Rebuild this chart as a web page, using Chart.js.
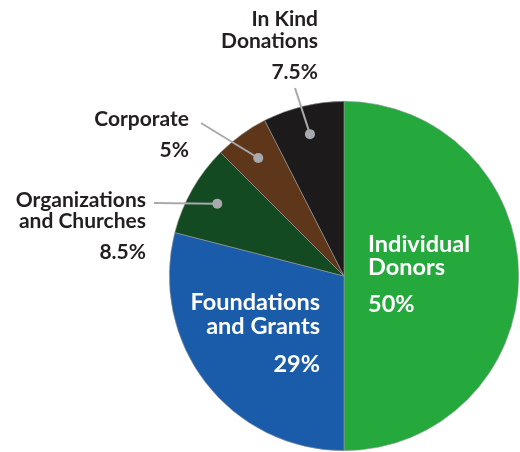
<!DOCTYPE html>
<html>
<head>
<meta charset="utf-8">
<script src="https://cdn.jsdelivr.net/npm/chart.js@4/dist/chart.umd.min.js"></script>
<style>
  html, body { margin: 0; padding: 0; background: #fff; }
  #wrap { width: 520px; height: 452px; position: relative; }
</style>
</head>
<body>
<div id="wrap"><canvas id="pie"></canvas></div>
<script>
const categories = ["Individual Donors", "Foundations and Grants", "Organizations and Churches", "Corporate", "In Kind Donations"]
const shares = [50, 29, 8.5, 5, 7.5]
const shareLabels = ["50%", "29%", "8.5%", "5%", "7.5%"]
const nameLines = [["Individual", "Donors"], ["Foundations", "and Grants"], ["Organizations", "and Churches"], ["Corporate"], ["In Kind", "Donations"]]
const colors = ["#25a83c", "#1a5ca9", "#134a22", "#5e371b", "#1c1a1b"]

// label placement, offsets from the pie centre (px)
const labelPos = [
  { inside: true, align: "left", x: 24, y: -24, gap: 23, pctGap: 37 },
  { inside: true, align: "right", x: -24, y: 34, gap: 24, pctGap: 38 },
  { inside: false, align: "right", x: -198, y: -69, gap: 21, pctGap: 31, lx: -190, ly: -73 },
  { inside: false, align: "right", x: -155, y: -150, gap: 21, pctGap: 31, lx: -143, ly: -153 },
  { inside: false, align: "right", x: -26, y: -250, gap: 22, pctGap: 31, lx: -49, ly: -188 }
]

const labelPlugin = {
  id: "sliceLabels",
  afterDatasetsDraw(chart) {
    const ctx = chart.ctx
    const arcs = chart.getDatasetMeta(0).data
    arcs.forEach((arc, i) => {
      const p = labelPos[i]
      const { x, y, startAngle, endAngle, outerRadius } = arc.getProps(["x", "y", "startAngle", "endAngle", "outerRadius"], true)
      ctx.save()
      if (!p.inside) {
        const mid = (startAngle + endAngle) / 2
        const dx = x + Math.cos(mid) * outerRadius * 0.835
        const dy = y + Math.sin(mid) * outerRadius * 0.835
        ctx.strokeStyle = "#a7a9ac"
        ctx.fillStyle = "#a7a9ac"
        ctx.lineWidth = 2
        ctx.beginPath()
        ctx.moveTo(x + p.lx, y + p.ly)
        ctx.lineTo(dx, dy)
        ctx.stroke()
        ctx.beginPath()
        ctx.arc(dx, dy, 5, 0, Math.PI * 2)
        ctx.fill()
      }
      ctx.fillStyle = p.inside ? "#ffffff" : "#231f20"
      ctx.font = p.inside ? "bold 23.5px Lato" : "bold 21px Lato"
      ctx.textAlign = p.align
      ctx.textBaseline = "alphabetic"
      let by = y + p.y
      nameLines[i].forEach((t, k) => {
        ctx.fillText(t, x + p.x, by)
        if (k < nameLines[i].length - 1) by += p.gap
      })
      ctx.fillText(shareLabels[i], x + p.x, by + p.pctGap)
      ctx.restore()
    })
  }
}

new Chart(document.getElementById("pie"), {
  type: "pie",
  data: {
    labels: categories,
    datasets: [{
      data: shares,
      backgroundColor: colors,
      borderColor: "#9a9a9a",
      borderWidth: 0.6
    }]
  },
  options: {
    responsive: true,
    maintainAspectRatio: false,
    animation: false,
    layout: { padding: { left: 169, right: 1, top: 101, bottom: 1 } },
    plugins: {
      legend: { display: false },
      tooltip: { enabled: false }
    }
  },
  plugins: [labelPlugin]
})
</script>
</body>
</html>
